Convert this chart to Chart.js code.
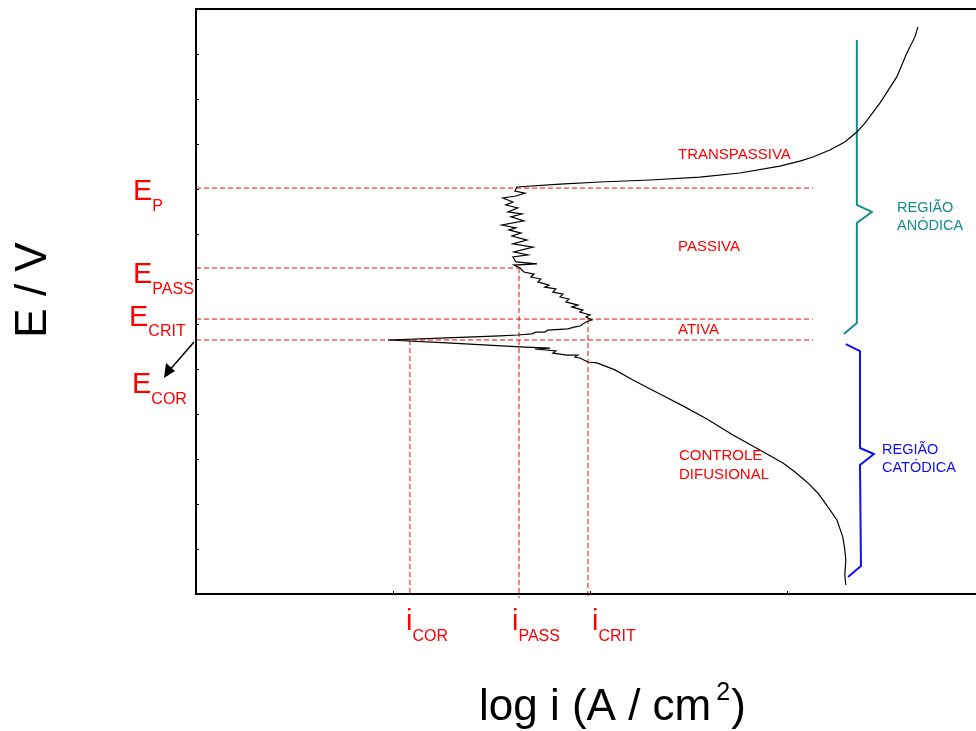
<!DOCTYPE html>
<html>
<head>
<meta charset="utf-8">
<script src="https://cdn.jsdelivr.net/npm/chart.js@4"></script>
<style>
  html, body { margin: 0; padding: 0; background: #fff; overflow: hidden; }
  canvas { display: block; }
</style>
</head>
<body>
<canvas id="curvaPolarizacao" width="976" height="731"></canvas>
<script>
// curva de polarizacao anodica: log i (A/cm2) x E (V)
var logI = [
  -5.701, -5.706, -5.701, -5.706, -5.716, -5.746, -5.792, -5.843, -5.899, -5.959,
  -6.020, -6.137, -6.274, -6.406, -6.528, -6.645, -6.782, -6.873, -6.965, -7.010,
  -7.051, -7.076, -7.061, -7.117, -7.188, -7.173, -7.279, -7.203, -7.355, -7.726,
  -8.025,
  -7.726, -7.457, -7.366, -7.295, -7.274, -7.229, -7.213, -7.112, -7.076, -7.051,
  -7.020, -6.990, -7.020, -7.000, -7.051, -7.036, -7.092, -7.061, -7.122, -7.107,
  -7.152, -7.137, -7.188, -7.173, -7.229, -7.208, -7.264, -7.249, -7.300, -7.284,
  -7.335, -7.355,
  -7.386, -7.269, -7.376, -7.391, -7.315, -7.386, -7.289, -7.391, -7.320, -7.396,
  -7.350, -7.411, -7.376, -7.447, -7.335, -7.401, -7.345, -7.416, -7.366, -7.427,
  -7.391, -7.442, -7.376, -7.330, -7.381, -7.371,
  -7.152, -6.949, -6.695, -6.442, -6.239, -6.036, -5.934, -5.868, -5.782, -5.706,
  -5.645, -5.604, -5.528, -5.442, -5.391, -5.350, -5.335
];
var potencial = [
  -0.960, -0.916, -0.849, -0.804, -0.747, -0.671, -0.613, -0.551, -0.502, -0.458,
  -0.418, -0.360, -0.293, -0.222, -0.164, -0.111, -0.049, -0.004, 0.027, 0.031,
  0.049, 0.053, 0.062, 0.062, 0.071, 0.080, 0.089, 0.093, 0.098, 0.116,
  0.129,
  0.138, 0.147, 0.151, 0.156, 0.164, 0.164, 0.173, 0.178, 0.187, 0.191,
  0.209, 0.218, 0.231, 0.240, 0.253, 0.262, 0.276, 0.284, 0.298, 0.311,
  0.320, 0.333, 0.342, 0.356, 0.364, 0.373, 0.387, 0.400, 0.409, 0.422,
  0.431, 0.449,
  0.462, 0.467, 0.476, 0.498, 0.507, 0.520, 0.542, 0.556, 0.573, 0.591,
  0.604, 0.618, 0.627, 0.640, 0.658, 0.676, 0.689, 0.698, 0.716, 0.729,
  0.742, 0.760, 0.769, 0.782, 0.791, 0.809,
  0.822, 0.831, 0.840, 0.853, 0.871, 0.902, 0.924, 0.942, 0.973, 1.009,
  1.053, 1.093, 1.182, 1.298, 1.404, 1.476, 1.520
];

// potenciais e correntes caracteristicas
var E_P = 0.804, E_PASS = 0.449, E_CRIT = 0.222, E_COR = 0.129;
var I_COR = -7.914, I_PASS = -7.360, I_CRIT = -7.010;
var fimTracejado = -5.868;

// chaves das regioes anodica e catodica
var chaveAnodicaX = [-5.645, -5.645, -5.569, -5.645, -5.645, -5.711];
var chaveAnodicaY = [1.462, 0.729, 0.698, 0.649, 0.204, 0.156];
var chaveCatodicaX = [-5.701, -5.629, -5.629, -5.558, -5.629, -5.624, -5.690];
var chaveCatodicaY = [0.111, 0.080, -0.351, -0.378, -0.427, -0.876, -0.924];

// marcas dos eixos (sem rotulos)
var ticksLogI = [-9, -8, -7, -6, -5];
var ticksE = [-1.0, -0.8, -0.6, -0.4, -0.2, 0.0, 0.2, 0.4, 0.6, 0.8, 1.0, 1.2, 1.4, 1.6];
var xMin = -9, xMax = -5.04, yMin = -1.0, yMax = 1.6;

function pontos(xs, ys) {
  return xs.map(function (v, i) { return { x: v, y: ys[i] }; });
}

var fonte = '"Liberation Sans", Arial, sans-serif';
var vermelho = '#ff0000';

function tracejado(data, semClip) {
  return {
    data: data,
    borderColor: vermelho,
    borderWidth: 1,
    borderDash: [5, 3],
    pointRadius: 0,
    showLine: true,
    clip: semClip ? false : undefined
  };
}

function textoIndice(ctx, base, indice, x, yBase, yIndice, tamBase, tamIndice) {
  ctx.font = tamBase + 'px ' + fonte;
  ctx.fillText(base, x, yBase);
  var w = ctx.measureText(base).width;
  ctx.font = tamIndice + 'px ' + fonte;
  ctx.fillText(indice, x + w, yIndice);
}

var anotacoes = {
  id: 'anotacoes',
  afterDraw: function (chart) {
    var ctx = chart.ctx, a = chart.chartArea;
    var x = chart.scales.x, y = chart.scales.y;
    ctx.save();

    // moldura sem borda direita
    ctx.strokeStyle = '#000';
    ctx.lineWidth = 2;
    ctx.beginPath();
    ctx.moveTo(a.right, a.top);
    ctx.lineTo(a.left, a.top);
    ctx.lineTo(a.left, a.bottom);
    ctx.lineTo(a.right, a.bottom);
    ctx.stroke();

    // marcas internas
    ctx.lineWidth = 1;
    ctx.beginPath();
    ticksE.forEach(function (v) {
      var py = Math.round(y.getPixelForValue(v)) + 0.5;
      ctx.moveTo(a.left - 1, py);
      ctx.lineTo(a.left + 3, py);
    });
    ticksLogI.forEach(function (v) {
      var px = Math.round(x.getPixelForValue(v)) + 0.5;
      if (px > a.right) return;
      ctx.moveTo(px, a.bottom + 1);
      ctx.lineTo(px, a.bottom - 3);
    });
    ctx.stroke();

    // seta para E_COR
    ctx.lineWidth = 1.5;
    ctx.beginPath();
    ctx.moveTo(194, 342);
    ctx.lineTo(168, 372);
    ctx.stroke();
    ctx.beginPath();
    ctx.moveTo(164, 378);
    ctx.lineTo(166, 363);
    ctx.lineTo(175, 371);
    ctx.closePath();
    ctx.fillStyle = '#000';
    ctx.fill();

    // rotulos dos potenciais
    ctx.fillStyle = vermelho;
    ctx.textBaseline = 'alphabetic';
    ctx.textAlign = 'left';
    textoIndice(ctx, 'E', 'P', 133, 200, 211, 29, 16);
    textoIndice(ctx, 'E', 'PASS', 133, 283, 294, 29, 16);
    textoIndice(ctx, 'E', 'CRIT', 129, 326, 336, 29, 16);
    textoIndice(ctx, 'E', 'COR', 132, 393, 404, 29, 16);

    // rotulos das correntes
    textoIndice(ctx, 'i', 'COR', 406, 630, 641, 29, 16);
    textoIndice(ctx, 'i', 'PASS', 512, 630, 641, 29, 16);
    textoIndice(ctx, 'i', 'CRIT', 592, 630, 641, 29, 16);

    // regioes da curva
    ctx.font = '15px ' + fonte;
    ctx.fillText('TRANSPASSIVA', 678, 159);
    ctx.fillText('PASSIVA', 678, 251);
    ctx.fillText('ATIVA', 678, 334);
    ctx.fillText('CONTROLE', 679, 460);
    ctx.fillText('DIFUSIONAL', 679, 479);

    ctx.font = '14.5px ' + fonte;
    ctx.fillStyle = '#128c8c';
    ctx.fillText('REGIÃO', 897, 212);
    ctx.fillText('ANÓDICA', 897, 230);
    ctx.fillStyle = '#1010f0';
    ctx.fillText('REGIÃO', 882, 454);
    ctx.fillText('CATÓDICA', 882, 472);

    // titulos dos eixos
    ctx.fillStyle = '#000';
    ctx.font = '44px ' + fonte;
    ctx.fillText('log i (A / cm', 479, 720);
    var w = ctx.measureText('log i (A / cm').width;
    ctx.font = '25px ' + fonte;
    ctx.fillText('2', 479 + w + 5, 700);
    var w2 = ctx.measureText('2').width;
    ctx.font = '44px ' + fonte;
    ctx.fillText(')', 479 + w + 5 + w2 + 1, 720);

    ctx.save();
    ctx.translate(46, 290);
    ctx.rotate(-Math.PI / 2);
    ctx.textAlign = 'center';
    ctx.fillText('E / V', 0, 0);
    ctx.restore();

    ctx.restore();
  }
};

new Chart(document.getElementById('curvaPolarizacao'), {
  type: 'scatter',
  data: {
    datasets: [
      {
        data: pontos(logI, potencial),
        borderColor: '#000',
        borderWidth: 1.2,
        pointRadius: 0,
        showLine: true,
        tension: 0
      },
      {
        data: pontos(chaveAnodicaX, chaveAnodicaY),
        borderColor: '#128c8c',
        borderWidth: 2,
        pointRadius: 0,
        showLine: true
      },
      {
        data: pontos(chaveCatodicaX, chaveCatodicaY),
        borderColor: '#1010f0',
        borderWidth: 2,
        pointRadius: 0,
        showLine: true
      },
      tracejado([{ x: xMin, y: E_P }, { x: fimTracejado, y: E_P }]),
      tracejado([{ x: xMin, y: E_PASS }, { x: I_PASS, y: E_PASS }]),
      tracejado([{ x: xMin, y: E_CRIT }, { x: fimTracejado, y: E_CRIT }]),
      tracejado([{ x: xMin, y: E_COR }, { x: fimTracejado, y: E_COR }]),
      tracejado([{ x: I_COR, y: E_COR }, { x: I_COR, y: yMin }]),
      tracejado([{ x: I_PASS, y: E_PASS }, { x: I_PASS, y: -1.018 }], true),
      tracejado([{ x: I_CRIT, y: E_CRIT }, { x: I_CRIT, y: -1.018 }], true)
    ]
  },
  options: {
    responsive: false,
    animation: false,
    devicePixelRatio: 1,
    layout: { padding: { left: 196, top: 9, right: 0, bottom: 137 } },
    plugins: {
      legend: { display: false },
      tooltip: { enabled: false }
    },
    scales: {
      x: { type: 'linear', min: xMin, max: xMax, display: false },
      y: { type: 'linear', min: yMin, max: yMax, display: false }
    }
  },
  plugins: [anotacoes]
});
</script>
</body>
</html>
